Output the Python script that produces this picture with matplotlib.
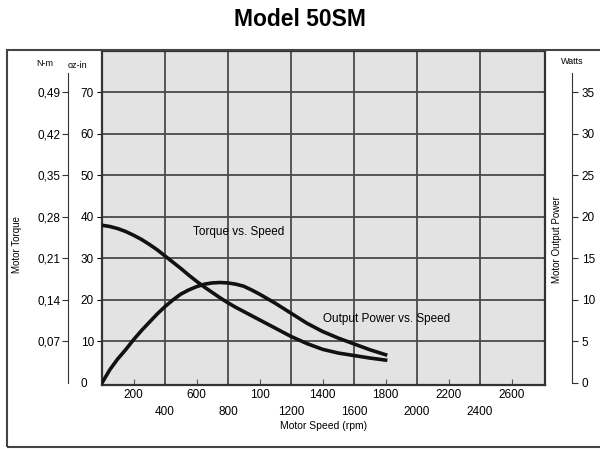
import matplotlib
matplotlib.use('Agg')
import matplotlib.pyplot as plt
from matplotlib.patches import Rectangle

plt.rcParams['font.family'] = ['Liberation Sans', 'DejaVu Sans']

# torque curve (oz-in) vs motor speed (rpm)
torque_rpm = [0, 50, 100, 150, 200, 250, 300, 350, 400, 450, 500, 550, 600, 650, 700, 750, 800, 850, 900, 950,
              1000, 1100, 1200, 1300, 1400, 1500, 1600, 1700, 1800]
torque_ozin = [38.0, 37.7, 37.2, 36.5, 35.6, 34.6, 33.4, 32.1, 30.6, 29.1, 27.6, 26.0, 24.5, 23.1, 21.8, 20.5, 19.3,
               18.2, 17.2, 16.2, 15.2, 13.2, 11.2, 9.5, 8.1, 7.2, 6.6, 6.0, 5.5]

# output power (W) vs motor speed (rpm)
power_rpm = [0, 50, 100, 150, 200, 250, 300, 350, 400, 450, 500, 550, 600, 650, 700, 750, 800, 850, 900, 950,
             1000, 1100, 1200, 1300, 1400, 1500, 1600, 1700, 1800]
power_w = [0, 1.6, 2.9, 4.0, 5.2, 6.3, 7.3, 8.3, 9.2, 10.0, 10.7, 11.2, 11.6, 11.9, 12.05, 12.1, 12.05, 11.9, 11.65,
           11.2, 10.7, 9.6, 8.4, 7.2, 6.2, 5.4, 4.7, 4.0, 3.4]

ozin_ticks = [10, 20, 30, 40, 50, 60, 70]
nm_labels = ['0,07', '0,14', '0,21', '0,28', '0,35', '0,42', '0,49']
watt_ticks = [0, 5, 10, 15, 20, 25, 30, 35]
rpm_row1 = [200, 600, 1000, 1400, 1800, 2200, 2600]
rpm_row1_labels = ['200', '600', '100', '1400', '1800', '2200', '2600']
rpm_row2 = [400, 800, 1200, 1600, 2000, 2400]

W, H = 600, 449
fig = plt.figure(figsize=(6, 4.49), dpi=100)

def px(x0, y0, x1, y1):
    return [x0 / W, 1 - y1 / H, (x1 - x0) / W, (y1 - y0) / H]

ylo, yhi = -0.5, 80.0
xlo, xhi = 0, 2812

# outer frame
fig.patches.append(Rectangle((7 / W, 1 - 447 / H), 1.0, (447 - 50) / H, transform=fig.transFigure,
                             fill=False, edgecolor='#444444', linewidth=1.5))

ax = fig.add_axes(px(102, 51, 545, 385))
ax.set_facecolor('#e3e3e3')
ax.set_xlim(xlo, xhi)
ax.set_ylim(ylo, yhi)
ax.set_yticks(ozin_ticks)
ax.tick_params(axis='y', left=False, labelleft=False)
ax.set_xticks(rpm_row1)
ax.set_xticklabels(rpm_row1_labels)
ax.set_xticks(rpm_row2, minor=True)
ax.set_xticklabels([str(v) for v in rpm_row2], minor=True)
ax.tick_params(axis='x', which='both', direction='in', length=4, color='#555555', labelsize=8.5)
ax.tick_params(axis='x', which='major', pad=3)
ax.tick_params(axis='x', which='minor', pad=15)
for v in [400, 800, 1200, 1600, 2000, 2400]:
    ax.axvline(v, color='#4a4a4a', linewidth=1.3, zorder=1)
for v in ozin_ticks:
    ax.axhline(v, color='#4a4a4a', linewidth=1.3, zorder=1)
for s in ax.spines.values():
    s.set_linewidth(1.6)
    s.set_color('#333333')
ax.set_xlabel('Motor Speed (rpm)', fontsize=7.5, labelpad=2)

ax.plot(torque_rpm, torque_ozin, color='#111111', linewidth=2.6, zorder=3, solid_joinstyle='round')
axw = ax.twinx()
axw.set_ylim(ylo / 2, yhi / 2)
axw.plot(power_rpm, power_w, color='#111111', linewidth=2.6, zorder=3, solid_joinstyle='round')
axw.axis('off')

ax.text(578, 36.3, 'Torque vs. Speed', fontsize=8.5, va='center', ha='left', zorder=4)
ax.text(1400, 15.4, 'Output Power vs. Speed', fontsize=8.5, va='center', ha='left', zorder=4)

# left scale: oz-in labels right of the line, N-m labels left
axl = fig.add_axes(px(68, 51, 68.1, 385))
axl.set_ylim(ylo, yhi)
axl.set_xticks([])
for k in ['top', 'bottom', 'right']:
    axl.spines[k].set_visible(False)
axl.spines['left'].set_bounds(0, 74.6)
axl.spines['left'].set_color('#333333')
axl.set_yticks([0] + ozin_ticks)
axl.tick_params(axis='y', left=True, right=False, labelleft=False, labelright=True,
                direction='out', length=4, color='#333333', labelsize=8.5, pad=5)
axl.set_yticks([0], minor=True)
axl.tick_params(axis='y', which='minor', left=True, direction='in', length=5, color='#333333')
axl.get_yticklines()[0].set_visible(False)
axl.text(-0.1, 76.5, 'oz-in', transform=axl.transData, fontsize=6.5, ha='left', va='center')

axn = fig.add_axes(px(62, 51, 62.1, 385))
axn.set_ylim(ylo, yhi)
axn.set_xticks([])
axn.set_yticks(ozin_ticks)
axn.set_yticklabels(nm_labels)
for s in axn.spines.values():
    s.set_visible(False)
axn.tick_params(axis='y', length=0, labelsize=8.5, pad=1)
fig.text(45 / W, 1 - 63 / H, 'N-m', fontsize=6.5, ha='center', va='center')
fig.text(17 / W, 1 - 245 / H, 'Motor Torque', fontsize=7, rotation=90, ha='center', va='center')

# right scale: watts
axr = fig.add_axes(px(572, 51, 572.1, 385))
axr.set_ylim(ylo / 2, yhi / 2)
axr.set_xticks([])
for k in ['top', 'bottom', 'left']:
    axr.spines[k].set_visible(False)
axr.spines['right'].set_bounds(0, 37.3)
axr.spines['right'].set_color('#333333')
axr.yaxis.tick_right()
axr.set_yticks(watt_ticks)
axr.tick_params(axis='y', direction='out', length=4, color='#333333', labelsize=8.5, pad=3)
fig.text(572 / W, 1 - 62 / H, 'Watts', fontsize=6.5, ha='center', va='center')
fig.text(557 / W, 1 - 240 / H, 'Motor Output Power', fontsize=7, rotation=90, ha='center', va='center')

fig.text(300 / W, 1 - 19 / H, 'Model 50SM', fontsize=16.5, fontweight='bold', ha='center', va='center')

fig.savefig('out.png', dpi=100)
